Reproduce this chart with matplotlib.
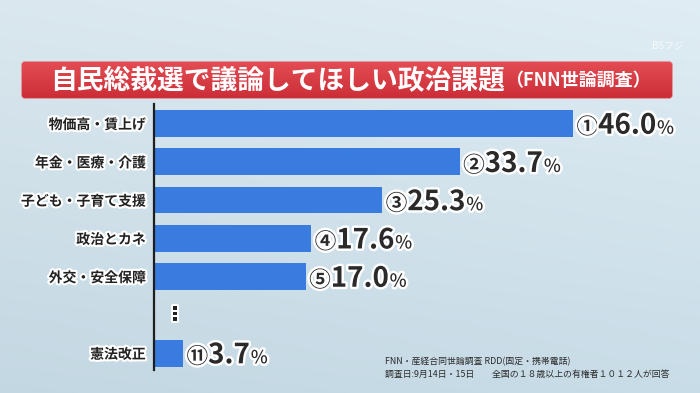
import numpy as np
import matplotlib
matplotlib.use("Agg")
import matplotlib.pyplot as plt
import matplotlib.patheffects as pe
from matplotlib.patches import FancyBboxPatch
from matplotlib.transforms import ScaledTranslation, blended_transform_factory

plt.rcParams['font.family'] = ['Noto Sans CJK JP', 'DejaVu Sans']

# ---- data ----
categories = ["物価高・賃上げ", "年金・医療・介護", "子ども・子育て支援",
              "政治とカネ", "外交・安全保障", "憲法改正"]
ranks = ["①", "②", "③", "④", "⑤", "⑪"]
values = [46.0, 33.7, 25.3, 17.6, 17.0, 3.7]
positions = [0, 1, 2, 3, 4, 6]          # slot 5 holds the ellipsis
ellipsis_pos = 5

title_main = "自民総裁選で議論してほしい政治課題"
title_sub = "（FNN世論調査）"
note1 = "FNN・産経合同世論調査 RDD(固定・携帯電話)"
note2 = "調査日:9月14日・15日　　全国の１８歳以上の有権者１０１２人が回答"

W, H = 700, 393
fig = plt.figure(figsize=(W / 100, H / 100), dpi=100)

# ---- background layer (pixel coordinates) ----
bg = fig.add_axes([0, 0, 1, 1], zorder=0)
bg.set_xlim(0, W)
bg.set_ylim(H, 0)
bg.axis('off')

yy, xx = np.mgrid[0:1:200j, 0:1:300j]
top = np.array([0xdd, 0xea, 0xf1]) / 255
bot = np.array([0xc6, 0xda, 0xe5]) / 255
grad = top[None, None, :] * (1 - yy[..., None]) + bot[None, None, :] * yy[..., None]
grad = grad + 0.02 * (xx[..., None] - 0.5)
grad = np.clip(grad, 0, 1)
bg.imshow(grad, extent=(0, W, H, 0), aspect='auto', zorder=0)

# title banner
banner = FancyBboxPatch((22, 62), 650, 36, boxstyle="round,pad=0,rounding_size=3",
                        facecolor='#d83a42', edgecolor='#e8767b', linewidth=1.0, zorder=2)
bg.add_patch(banner)
rg = np.linspace(0, 1, 50)[:, None, None]
c1 = np.array([0xe3, 0x4c, 0x53]) / 255
c2 = np.array([0xcc, 0x2e, 0x37]) / 255
rgrad = c1 * (1 - rg) + c2 * rg
rgrad = np.repeat(rgrad, 10, axis=1)
im = bg.imshow(rgrad, extent=(22, 672, 98, 62), aspect='auto', zorder=2.5)
im.set_clip_path(banner)

t_title = bg.text(50, 81, title_main, color='white', fontsize=19.3, fontweight='bold',
                  ha='left', va='center', zorder=3)
bg.annotate(title_sub, xy=(1, 0.5), xycoords=t_title, xytext=(0, 0),
            textcoords='offset points', ha='left', va='center',
            color='white', fontsize=13, fontweight='bold', zorder=3)

# watermark
bg.text(668, 46, "BSフジ", color='white', alpha=0.75, fontsize=7,
        ha='center', va='center', zorder=3)

# footnote
bg.text(385, 362, note1, color='#2b2b2b', fontsize=6.4, ha='left', va='center', zorder=3)
bg.text(385, 374, note2, color='#2b2b2b', fontsize=6.4, ha='left', va='center', zorder=3)

# ---- chart ----
px2x = lambda p: p / W
px2y = lambda p: 1 - p / H
left_px, right_px, top_px, bot_px = 154, 680, 104, 370
ax = fig.add_axes([px2x(left_px), px2y(bot_px),
                   px2x(right_px) - px2x(left_px), px2y(top_px) - px2y(bot_px)], zorder=1)
ax.patch.set_alpha(0)

bar_color = '#3a7be0'
ax.barh(positions, values, height=0.7, color=bar_color, zorder=2)

scale = 9.22   # px per percent
ax.set_xlim((left_px - 149) / scale, (right_px - 149) / scale)
ax.set_ylim(6.44, -0.51)

for s in ['top', 'right', 'bottom']:
    ax.spines[s].set_visible(False)
ax.spines['left'].set_color('#1e1e1e')
ax.spines['left'].set_linewidth(1.6)
ax.set_xticks([])
ax.set_yticks(positions)
ax.set_yticklabels(categories)
ax.tick_params(axis='y', length=0, pad=6)
stroke = [pe.withStroke(linewidth=3, foreground='white')]
for lab in ax.get_yticklabels():
    lab.set_fontsize(10)
    lab.set_fontweight('bold')
    lab.set_color('#222222')
    lab.set_path_effects(stroke)

# ellipsis
ax.text(0.04, ellipsis_pos, "⋮", transform=blended_transform_factory(ax.transAxes, ax.transData),
        ha='center', va='center', fontsize=14, fontweight='bold', color='#222222',
        family=['DejaVu Sans'], path_effects=stroke)

# value labels: rank circle + number + %
fig.canvas.draw()
r = fig.canvas.get_renderer()
vstroke = [pe.withStroke(linewidth=3.5, foreground='white')]
base_dy = -7.3 / 72
for p, v, rk in zip(positions, values, ranks):
    x0 = 2.5 / 72
    tc = ax.text(v, p, rk, transform=ax.transData + ScaledTranslation(x0, base_dy, fig.dpi_scale_trans),
                 ha='left', va='baseline', fontsize=15.5, fontweight='bold', color='#2a2a2a',
                 path_effects=vstroke, zorder=4)
    w1 = tc.get_window_extent(r).width / fig.dpi
    tn = ax.text(v, p, f"{v:.1f}", transform=ax.transData + ScaledTranslation(x0 + w1, base_dy, fig.dpi_scale_trans),
                 ha='left', va='baseline', fontsize=20, fontweight='bold', color='#2a2a2a',
                 path_effects=vstroke, zorder=4)
    w2 = tn.get_window_extent(r).width / fig.dpi
    ax.text(v, p, "%", transform=ax.transData + ScaledTranslation(x0 + w1 + w2 + 0.5 / 72, base_dy, fig.dpi_scale_trans),
            ha='left', va='baseline', fontsize=13, fontweight='medium', color='#2a2a2a',
            path_effects=vstroke, zorder=4)

fig.savefig("out.png", dpi=100)
